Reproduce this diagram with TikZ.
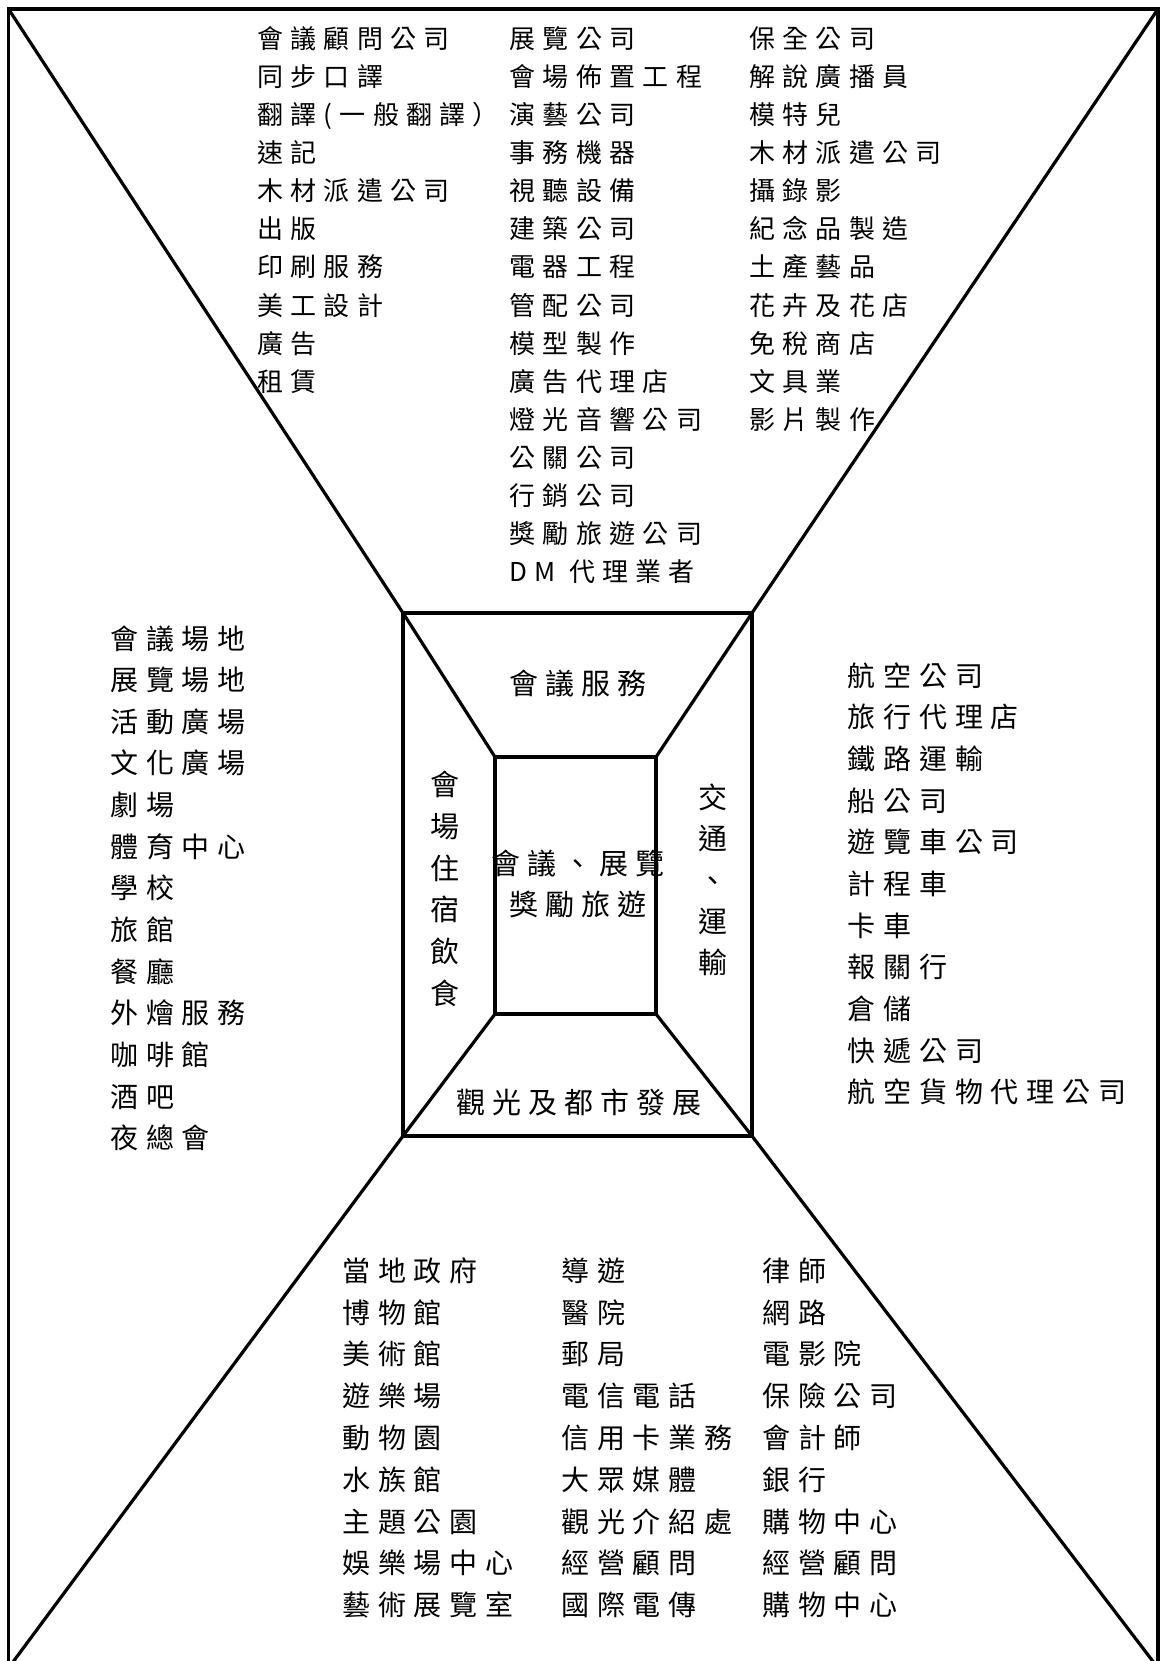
\documentclass[tikz,border=0pt]{standalone}
\usepackage{fontspec}
\newfontfamily\cjk[LetterSpace=28]{Noto Sans CJK TC}
\newfontfamily\cjkc[LetterSpace=24]{Noto Sans CJK TC}
\begin{document}
\begin{tikzpicture}[x=1pt,y=-1pt,
  frame/.style={line width=3.3pt, line join=miter},
  edge/.style={line width=3.2pt},
  lab/.style={inner sep=0pt, anchor=west, text height=0.88em, text depth=0.12em, yshift=-7.5pt},
  ctr/.style={inner sep=0pt, anchor=center, text height=0.88em, text depth=0.12em, yshift=-8pt},
  topf/.style={font=\cjk\fontsize{26}{30}\selectfont},
  sidef/.style={font=\cjk\fontsize{28}{32}\selectfont},
  cenf/.style={font=\cjkc\fontsize{29}{33}\selectfont}]
\useasboundingbox (0,0) rectangle (1161,1661);
\clip (0,0) rectangle (1161,1661);
% corner points
\coordinate (oTL) at (8.5,9);
\coordinate (oTR) at (1158,9);
\coordinate (oBL) at (8.5,1668);
\coordinate (oBR) at (1158,1668);
\coordinate (mTL) at (403,613);
\coordinate (mTR) at (752,613);
\coordinate (mBL) at (403,1136);
\coordinate (mBR) at (752,1136);
\coordinate (iTL) at (495,757);
\coordinate (iTR) at (656,757);
\coordinate (iBL) at (495,1014);
\coordinate (iBR) at (656,1014);
% frames
\draw[frame] (oTL) rectangle (oBR);
\draw[edge] (mTL) rectangle (mBR);
\draw[edge] (iTL) rectangle (iBR);
\draw[edge] (oTL) -- (mTL) -- (iTL);
\draw[edge] (oTR) -- (mTR) -- (iTR);
\draw[edge] (oBL) -- (mBL) -- (iBL);
\draw[edge] (oBR) -- (mBR) -- (iBR);
% top region
\foreach \t [count=\i] in {會議顧問公司,同步口譯,翻譯(一般翻譯）,速記,木材派遣公司,出版,印刷服務,美工設計,廣告,租賃}
  \node[lab,topf] (ta\i) at (257,{37.1+(\i-1)*38.1}) {\t};
\foreach \t [count=\i] in {展覽公司,會場佈置工程,演藝公司,事務機器,視聽設備,建築公司,電器工程,管配公司,模型製作,廣告代理店,燈光音響公司,公關公司,行銷公司,獎勵旅遊公司,DM 代理業者}
  \node[lab,topf] (tb\i) at (509.5,{37.1+(\i-1)*38.1}) {\t};
\foreach \t [count=\i] in {保全公司,解說廣播員,模特兒,木材派遣公司,攝錄影,紀念品製造,土產藝品,花卉及花店,免稅商店,文具業,影片製作}
  \node[lab,topf] (tc\i) at (749,{37.1+(\i-1)*38.1}) {\t};
% left region
\foreach \t [count=\i] in {會議場地,展覽場地,活動廣場,文化廣場,劇場,體育中心,學校,旅館,餐廳,外燴服務,咖啡館,酒吧,夜總會}
  \node[lab,sidef] (la\i) at (110,{637.7+(\i-1)*41.66}) {\t};
% right region
\foreach \t [count=\i] in {航空公司,旅行代理店,鐵路運輸,船公司,遊覽車公司,計程車,卡車,報關行,倉儲,快遞公司,航空貨物代理公司}
  \node[lab,sidef] (ra\i) at (847.4,{674.8+(\i-1)*41.66}) {\t};
% bottom region
\foreach \t [count=\i] in {當地政府,博物館,美術館,遊樂場,動物園,水族館,主題公園,娛樂場中心,藝術展覽室}
  \node[lab,sidef] (ba\i) at (342,{1270+(\i-1)*41.8}) {\t};
\foreach \t [count=\i] in {導遊,醫院,郵局,電信電話,信用卡業務,大眾媒體,觀光介紹處,經營顧問,國際電傳}
  \node[lab,sidef] (bb\i) at (561,{1270+(\i-1)*41.8}) {\t};
\foreach \t [count=\i] in {律師,網路,電影院,保險公司,會計師,銀行,購物中心,經營顧問,購物中心}
  \node[lab,sidef] (bc\i) at (762,{1270+(\i-1)*41.8}) {\t};
% centre labels
\node[ctr,cenf] (svc) at (578,683) {會議服務};
\foreach \t [count=\i] in {會,場,住,宿,飲,食}
  \node[ctr,cenf] (lodg\i) at (445,{784+(\i-1)*41.7}) {\t};
\foreach \t [count=\i] in {交,通,、,運,輸}
  \node[ctr,cenf] (trans\i) at (713,{796.6+(\i-1)*41.3}) {\t};
\node[ctr,cenf] (core1) at (578,863) {會議、展覽};
\node[ctr,cenf] (core2) at (578,903.6) {獎勵旅遊};
\node[ctr,cenf] (tour) at (579,1101.7) {觀光及都市發展};
\end{tikzpicture}
\end{document}
